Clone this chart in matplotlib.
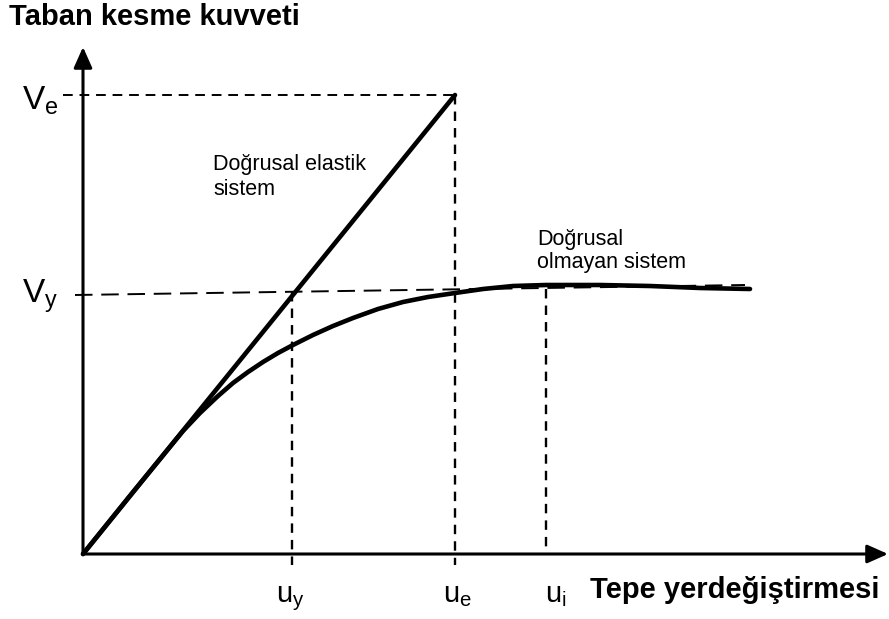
import matplotlib
matplotlib.use("Agg")
import matplotlib.pyplot as plt

plt.rcParams['font.family'] = ['Liberation Sans', 'DejaVu Sans']
plt.rcParams['mathtext.fontset'] = 'custom'
plt.rcParams['mathtext.rm'] = 'Liberation Sans'

# key points of the chart (displacement, base shear), arbitrary units
u_y = 209
u_e = 372
u_i = 463
V_e = 459
V_y = 259

# linear elastic system
elastic_u = [0, u_e]
elastic_V = [0, V_e]

# nonlinear system
nonlin_u = [0, 50, 100, 117, 135, 150, 165, 180, 195, 210, 230, 250, 270, 295, 320,
            345, 372, 400, 430, 463, 517, 567, 617, 667]
nonlin_V = [0, 62, 123, 141, 158, 171, 182, 192, 201, 209, 219, 228, 236, 245, 252,
            257, 261, 265, 268, 269, 269, 268, 266, 265]

# slightly inclined yield line
yield_u = [-8, 662]
yield_V = [V_y, 269]

fig = plt.figure(figsize=(8.89, 6.19), dpi=100)
ax = fig.add_axes([0, 0, 1, 1])
ax.set_xlim(-83, 806)
ax.set_ylim(-65, 554)
ax.axis("off")

# axes with arrow heads
arrow = dict(arrowstyle='-|>,head_length=0.9,head_width=0.4', lw=2.2, color='black',
             shrinkA=0, shrinkB=0, mutation_scale=14)
ax.annotate('', xy=(805, 0), xytext=(0, 0), arrowprops=arrow)
ax.annotate('', xy=(0, 507), xytext=(0, 0), arrowprops=arrow)

# dashed guide lines
ax.plot([-20, u_e], [V_e, V_e], color='black', lw=1.4, dashes=(5, 3.5))
ax.plot(yield_u, yield_V, color='black', lw=1.4, dashes=(9, 4.5))
ax.plot([u_y, u_y], [262, -11], color='black', lw=1.7, dashes=(4, 3))
ax.plot([u_e, u_e], [V_e, -11], color='black', lw=1.7, dashes=(4, 3))
ax.plot([u_i, u_i], [265, 0], color='black', lw=1.7, dashes=(4, 3))

# curves
ax.plot(elastic_u, elastic_V, color='black', lw=3.3, solid_capstyle='round')
ax.plot(nonlin_u, nonlin_V, color='black', lw=3.3, solid_capstyle='round',
        solid_joinstyle='round')

# labels
ax.text(-74, 529, "Taban kesme kuvveti", fontsize=21, fontweight='bold', va='baseline')
ax.text(507, -44, "Tepe yerdeğiştirmesi", fontsize=21, fontweight='bold', va='baseline')

ax.text(-61, 444, r"$\mathrm{V_e}$", fontsize=24, va='baseline')
ax.text(-61, 251, r"$\mathrm{V_y}$", fontsize=24, va='baseline')
ax.text(207, -48, r"$\mathrm{u_y}$", fontsize=21, va='baseline', ha='center')
ax.text(374, -48, r"$\mathrm{u_e}$", fontsize=21, va='baseline', ha='center')
ax.text(462, -48, r"$\mathrm{u_i}$", fontsize=21, va='baseline', ha='left')

ax.text(130, 384, "Doğrusal elastik", fontsize=15.5, va='baseline')
ax.text(130, 359, "sistem", fontsize=15.5, va='baseline')
ax.text(454, 309, "Doğrusal", fontsize=15.5, va='baseline')
ax.text(454, 286, "olmayan sistem", fontsize=15.5, va='baseline')

fig.savefig("out.png", dpi=100)
